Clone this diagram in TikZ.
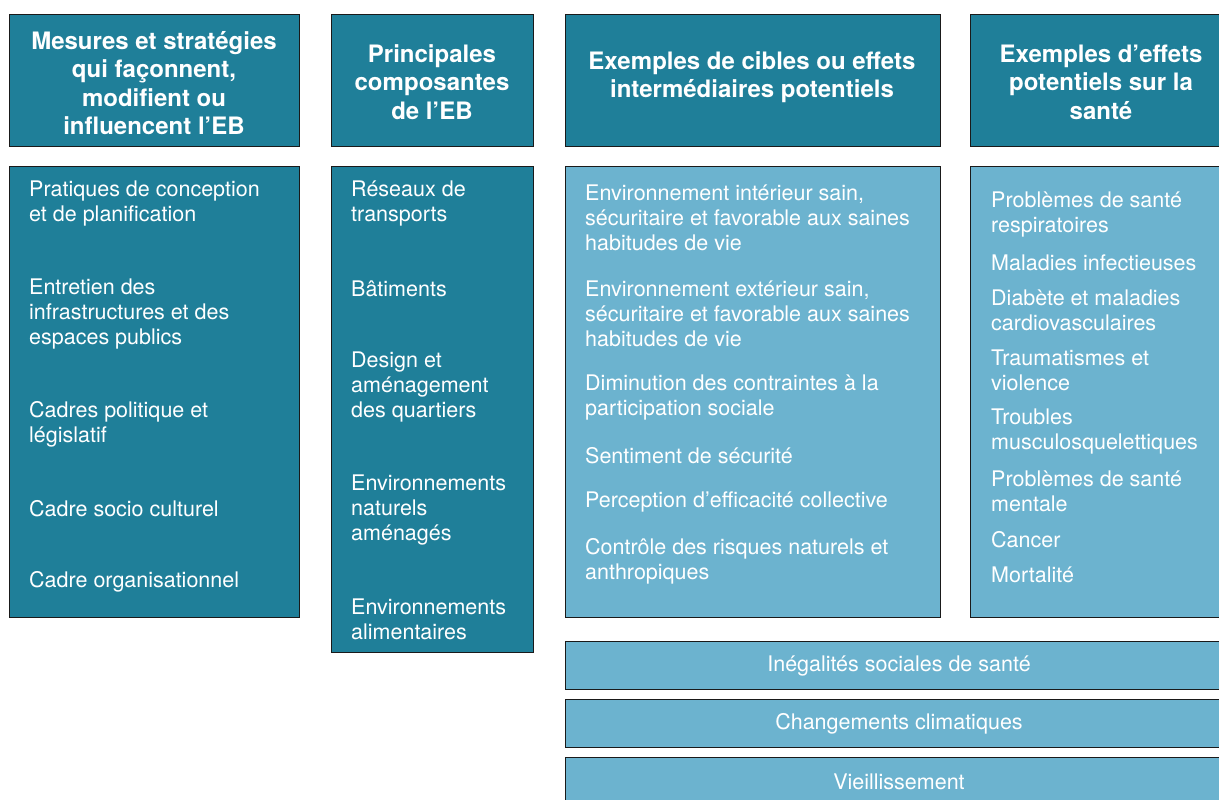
\documentclass[tikz,border=0pt]{standalone}
\usepackage{fontspec}
\setmainfont{TeX Gyre Heros}
\definecolor{darkteal}{HTML}{1F7F99}
\definecolor{lightblue}{HTML}{6CB3CF}
\definecolor{edge}{HTML}{1A1A1A}
\tikzset{
  box/.style={draw=edge, line width=1.3pt, inner sep=0pt, anchor=north west},
  darkbox/.style={box, fill=darkteal},
  lightbox/.style={box, fill=lightblue},
  head/.style={text=white, font=\fontsize{24}{28.5}\selectfont\bfseries, align=center, inner sep=0pt},
  item/.style={text=white, font=\fontsize{21.5}{25}\selectfont, align=left, anchor=west, inner sep=0pt},
  band/.style={text=white, font=\fontsize{21.5}{25}\selectfont, inner sep=0pt}
}
\begin{document}
\begin{tikzpicture}[x=1pt,y=-1pt]
\clip (0,0) rectangle (1219,800);
\fill[white] (0,0) rectangle (1219,800);
% header boxes
\node[darkbox, minimum width=290pt, minimum height=132pt] (h1) at (9,14) {};
\node[darkbox, minimum width=202pt, minimum height=132pt] (h2) at (331,14) {};
\node[darkbox, minimum width=375pt, minimum height=132pt] (h3) at (565,14) {};
\node[darkbox, minimum width=264pt, minimum height=132pt] (h4) at (970,14) {};
\node[head] (t1) at (154,83) {Mesures et stratégies\\qui façonnent,\\modifient ou\\influencent l’EB};
\node[head] (t2) at (432,82) {Principales\\composantes\\de l’EB};
\node[head] (t3) at (752,77) {Exemples de cibles ou effets\\intermédiaires potentiels};
\node[head] (t4) at (1101,82) {Exemples d’effets\\potentiels sur la\\santé};
% body boxes
\node[darkbox, minimum width=290pt, minimum height=451pt] (b1) at (9,166) {};
\node[darkbox, minimum width=202pt, minimum height=486pt] (b2) at (331,166) {};
\node[lightbox, minimum width=375pt, minimum height=451pt] (b3) at (565,166) {};
\node[lightbox, minimum width=264pt, minimum height=451pt] (b4) at (970,166) {};
% column 1 items
\node[item] (a1) at (29,203.5) {Pratiques de conception\\et de planification};
\node[item] (a2) at (29,314) {Entretien des\\infrastructures et des\\espaces publics};
\node[item] (a3) at (29,424.5) {Cadres politique et\\législatif};
\node[item] (a4) at (29,509) {Cadre socio culturel};
\node[item] (a5) at (29,582) {Cadre organisationnel};
% column 2 items
\node[item] (c1) at (351,203.5) {Réseaux de\\transports};
\node[item] (c2) at (351,289) {Bâtiments};
\node[item] (c3) at (351,387) {Design et\\aménagement\\des quartiers};
\node[item] (c4) at (351,510) {Environnements\\naturels\\aménagés};
\node[item] (c5) at (351,619.5) {Environnements\\alimentaires};
% column 3 items
\node[item] (d1) at (585,217.5) {Environnement intérieur sain,\\sécuritaire et favorable aux saines\\habitudes de vie};
\node[item] (d2) at (585,313.5) {Environnement extérieur sain,\\sécuritaire et favorable aux saines\\habitudes de vie};
\node[item] (d3) at (585,397.5) {Diminution des contraintes à la\\participation sociale};
\node[item] (d4) at (585,456) {Sentiment de sécurité};
\node[item] (d5) at (585,502) {Perception d’efficacité collective};
\node[item] (d6) at (585,561) {Contrôle des risques naturels et\\anthropiques};
% column 4 items
\node[item] (e1) at (991,214.5) {Problèmes de santé\\respiratoires};
\node[item] (e2) at (991,263) {Maladies infectieuses};
\node[item] (e3) at (991,310.5) {Diabète et maladies\\cardiovasculaires};
\node[item] (e4) at (991,370.5) {Traumatismes et\\violence};
\node[item] (e5) at (991,431.5) {Troubles\\musculosquelettiques};
\node[item] (e6) at (991,491.5) {Problèmes de santé\\mentale};
\node[item] (e7) at (991,540) {Cancer};
\node[item] (e8) at (991,575) {Mortalité};
% bottom bands
\node[lightbox, minimum width=668pt, minimum height=48pt] (f1) at (565,641) {};
\node[lightbox, minimum width=668pt, minimum height=48pt] (f2) at (565,699) {};
\node[lightbox, minimum width=668pt, minimum height=48pt] (f3) at (565,757) {};
\node[band] (g1) at (899,666) {Inégalités sociales de santé};
\node[band] (g2) at (899,724) {Changements climatiques};
\node[band] (g3) at (899,782) {Vieillissement};
\end{tikzpicture}
\end{document}
